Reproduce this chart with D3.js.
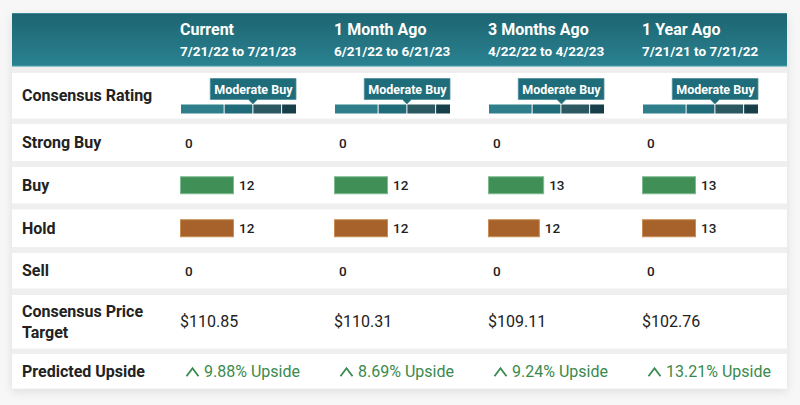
<!DOCTYPE html>
<html>
<head>
<meta charset="utf-8">
<script src="https://cdn.jsdelivr.net/npm/d3@7"></script>
<style>
  html, body { margin: 0; padding: 0; background: #f7f7f7; }
  svg { display: block; font-family: Roboto, "Noto Sans", sans-serif; }
</style>
</head>
<body>
<svg id="chart" width="800" height="405"></svg>
<script>
// ---- Data ----
const periods = ["Current", "1 Month Ago", "3 Months Ago", "1 Year Ago"];
const dateRanges = ["7/21/22 to 7/21/23", "6/21/22 to 6/21/23", "4/22/22 to 4/22/23", "7/21/21 to 7/21/22"];
const ratingLabels = ["Moderate Buy", "Moderate Buy", "Moderate Buy", "Moderate Buy"];
const ratingScores = [2.50, 2.50, 2.52, 2.50];
const strongBuy = [0, 0, 0, 0];
const buy = [12, 12, 13, 13];
const hold = [12, 12, 12, 13];
const sell = [0, 0, 0, 0];
const priceTargets = [110.85, 110.31, 109.11, 102.76];
const upsides = [9.88, 8.69, 9.24, 13.21];
const rowLabels = ["Consensus Rating", "Strong Buy", "Buy", "Hold", "Sell", "Consensus Price|Target", "Predicted Upside"];
const gaugeThresholds = [0, 1.5, 2.5, 3.5, 4];

// ---- Layout ----
const svg = d3.select("#chart");
const cardX = 12, cardW = 775;
const rowTops = [73, 124, 167, 209.5, 253, 295, 354];
const rowHeights = [45.5, 37, 36.5, 37.5, 35.5, 53.5, 34.5];

const defs = svg.append("defs");
const hg = defs.append("linearGradient").attr("id", "hdr").attr("x1", 0).attr("y1", 0).attr("x2", 0).attr("y2", 1);
hg.append("stop").attr("offset", "0%").attr("stop-color", "#1d6471");
hg.append("stop").attr("offset", "100%").attr("stop-color", "#2a8291");
const sh = defs.append("filter").attr("id", "shadow").attr("x", "-5%").attr("y", "-10%").attr("width", "110%").attr("height", "125%");
sh.append("feDropShadow").attr("dx", 0).attr("dy", 3).attr("stdDeviation", 5).attr("flood-color", "#000").attr("flood-opacity", 0.10);

// card background (gray bands between rows)
svg.append("rect").attr("x", cardX).attr("y", 13).attr("width", cardW).attr("height", 375.5)
  .attr("fill", "#efefef").attr("filter", "url(#shadow)");

// header
svg.append("rect").attr("x", cardX).attr("y", 13).attr("width", cardW).attr("height", 53)
  .attr("fill", "url(#hdr)");
svg.append("rect").attr("x", cardX).attr("y", 13).attr("width", cardW).attr("height", 1).attr("fill", "#3d8896");
svg.append("rect").attr("x", cardX).attr("y", 65).attr("width", cardW).attr("height", 1.5).attr("fill", "#3b92a2");

// column scale
const x = d3.scaleBand().domain(d3.range(periods.length)).range([180, 180 + 154 * periods.length]).paddingInner(0).paddingOuter(0);

// header texts
const hdr = svg.append("g");
hdr.selectAll("text.period").data(periods).join("text")
  .attr("class", "period")
  .attr("x", (d, i) => x(i)).attr("y", 35)
  .attr("fill", "#fff").attr("font-size", 16).attr("font-weight", 700)
  .text(d => d);
hdr.selectAll("text.range").data(dateRanges).join("text")
  .attr("class", "range")
  .attr("x", (d, i) => x(i)).attr("y", 55.5)
  .attr("fill", "#fff").attr("font-size", 13.5).attr("font-weight", 700)
  .text(d => d);

// rows
const rows = svg.append("g");
rows.selectAll("rect").data(rowLabels).join("rect")
  .attr("x", cardX).attr("y", (d, i) => rowTops[i]).attr("width", cardW).attr("height", (d, i) => rowHeights[i])
  .attr("fill", "#fff");
const rowCenter = i => rowTops[i] + rowHeights[i] / 2;

rows.selectAll("text").data(rowLabels).join("text")
  .attr("x", 22)
  .attr("fill", "#222").attr("font-size", 16).attr("font-weight", 700)
  .each(function(d, i) {
    const parts = d.split("|");
    const t = d3.select(this);
    const lh = 20.5;
    const y0 = rowCenter(i) + 5.5 - (parts.length - 1) * lh / 2;
    parts.forEach((p, k) => t.append("tspan").attr("x", 22).attr("y", y0 + k * lh).text(p));
  });

// ---- Consensus rating gauge ----
const gaugeW = 115;
const g = d3.scaleLinear().domain([0, 4]).range([0, gaugeW]);
const segColors = ["#2f7e8c", "#1f6b79", "#2b5861", "#173f49"];
const segs = d3.pairs(gaugeThresholds);
const gaugeY = rowTops[0] + 31.5, gaugeH = 9;
periods.forEach((p, i) => {
  const gx = x(i) + 1;
  const gg = svg.append("g").attr("transform", `translate(${gx},0)`);
  gg.selectAll("rect.seg").data(segs).join("rect")
    .attr("class", "seg")
    .attr("x", d => g(d[0]) + (d[0] > 0 ? 0.5 : 0))
    .attr("width", d => g(d[1]) - g(d[0]) - (d[0] > 0 ? 0.5 : 0) - (d[1] < 4 ? 0.5 : 0))
    .attr("y", gaugeY).attr("height", gaugeH)
    .attr("fill", (d, k) => segColors[k]);
  const lbl = gg.append("text")
    .attr("font-size", 12.5).attr("font-weight", 700).attr("fill", "#fff")
    .attr("text-anchor", "end")
    .attr("x", g(4) - 3.5).attr("y", rowTops[0] + 20.5)
    .text(ratingLabels[i]);
  const tw = lbl.node().getComputedTextLength();
  const bw = tw + 7.5, bx = g(4) - bw;
  const by = rowTops[0] + 5.5, bh = 21;
  const px = g(ratingScores[i]);
  gg.insert("path", "text")
    .attr("d", `M${bx},${by}H${bx + bw}V${by + bh}H${px + 4.5}L${px},${by + bh + 4.5}L${px - 4.5},${by + bh}H${bx}Z`)
    .attr("fill", "#1f6d7b").attr("stroke", "#4f8f9b").attr("stroke-width", 0.8);
});

// ---- Counts rows ----
const barW = d3.scaleLinear().domain([0, 1]).range([0, 108]);
const countRows = [
  { vals: strongBuy, row: 1, fill: null, stroke: null },
  { vals: buy, row: 2, fill: "#3f8f57", stroke: "#7dbb8f" },
  { vals: hold, row: 3, fill: "#a6622a", stroke: "#c98c52" },
  { vals: sell, row: 4, fill: null, stroke: null }
];
const totals = periods.map((p, i) => strongBuy[i] + buy[i] + hold[i] + sell[i]);
countRows.forEach(cr => {
  const cy = rowCenter(cr.row);
  const gr = svg.append("g");
  gr.selectAll("rect").data(cr.vals.filter(v => v > 0).length ? cr.vals : []).join("rect")
    .attr("x", (d, i) => x(i) + 0.5)
    .attr("y", cy - 8.5)
    .attr("width", (d, i) => Math.max(0, barW(d / totals[i]) - 1))
    .attr("height", 17)
    .attr("fill", cr.fill).attr("stroke", cr.stroke).attr("stroke-width", 1);
  gr.selectAll("text").data(cr.vals).join("text")
    .attr("x", (d, i) => x(i) + barW(d / totals[i]) + 5)
    .attr("y", cy + 5)
    .attr("font-size", 13.5).attr("font-weight", 500).attr("fill", "#222")
    .text(d => d);
});

// ---- Price targets ----
svg.append("g").selectAll("text").data(priceTargets).join("text")
  .attr("x", (d, i) => x(i)).attr("y", rowCenter(5) + 5.5)
  .attr("font-size", 16).attr("fill", "#222")
  .text(d => "$" + d3.format(".2f")(d));

// ---- Predicted upside ----
const up = svg.append("g");
const uy = rowCenter(6);
up.selectAll("path").data(upsides).join("path")
  .attr("d", (d, i) => {
    const cx = x(i) + 12.5;
    return `M${cx - 6},${uy + 5} L${cx},${uy - 3} L${cx + 6},${uy + 5}`;
  })
  .attr("fill", "none").attr("stroke", "#3a8a4e").attr("stroke-width", 1.8);
up.selectAll("text").data(upsides).join("text")
  .attr("x", (d, i) => x(i) + 24).attr("y", uy + 6)
  .attr("font-size", 16).attr("fill", "#3a8a4e")
  .text(d => d3.format(".2f")(d) + "% Upside");
</script>
</body>
</html>
